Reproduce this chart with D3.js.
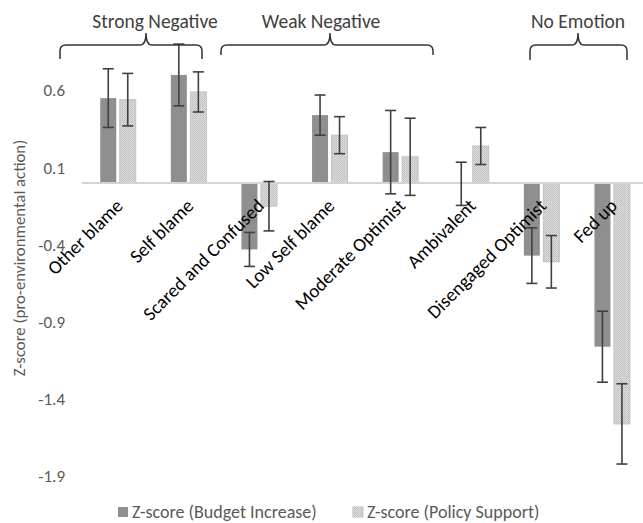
<!DOCTYPE html>
<html>
<head>
<meta charset="utf-8">
<script src="https://cdn.jsdelivr.net/npm/d3@7"></script>
<style>
  html, body { margin: 0; padding: 0; background: #fff; }
  svg { display: block; }
  text { font-family: Carlito, Calibri, Lato, "Open Sans", sans-serif; }
</style>
</head>
<body>
<div id="chart"></div>
<script>
const categories = ["Other blame", "Self blame", "Scared and Confused", "Low Self blame",
                    "Moderate Optimist", "Ambivalent", "Disengaged Optimist", "Fed up"];
const budgetIncrease = [0.55, 0.70, -0.43, 0.44, 0.20, -0.005, -0.47, -1.06];
const budgetError    = [0.19, 0.20, 0.11, 0.13, 0.27, 0.14, 0.18, 0.23];
const policySupport  = [0.54, 0.59, -0.15, 0.31, 0.17, 0.24, -0.51, -1.56];
const policyError    = [0.17, 0.13, 0.16, 0.12, 0.25, 0.12, 0.17, 0.26];
const yTicks = [0.6, 0.1, -0.4, -0.9, -1.4, -1.9];
const seriesNames = ["Z-score (Budget Increase)", "Z-score (Policy Support)"];
const groups = [
  { label: "Strong Negative", from: 0, to: 1 },
  { label: "Weak Negative", from: 2, to: 4 },
  { label: "No Emotion", from: 6, to: 7 }
];

const W = 643, H = 523;
const svg = d3.select("#chart").append("svg").attr("width", W).attr("height", H);

const defs = svg.append("defs");
const pat = defs.append("pattern").attr("id", "dots").attr("patternUnits", "userSpaceOnUse")
  .attr("width", 2).attr("height", 2);
pat.append("rect").attr("width", 2).attr("height", 2).attr("fill", "#dcdcdc");
pat.append("rect").attr("width", 1).attr("height", 1).attr("fill", "#bdbdbd");
pat.append("rect").attr("x", 1).attr("y", 1).attr("width", 1).attr("height", 1).attr("fill", "#c8c8c8");

const x = d3.scaleBand().domain(categories).range([82.7, 647.5]).paddingInner(0).paddingOuter(0);
const y = d3.scaleLinear().domain([-1.9, 1.1]).range([476.4, 13.2]);
const barW = 16, gap = 3.5;

const data = categories.map((c, i) => ({
  cat: c,
  vals: [
    { s: 0, v: budgetIncrease[i], e: budgetError[i] },
    { s: 1, v: policySupport[i], e: policyError[i] }
  ]
}));

// bars
const g = svg.append("g");
data.forEach(d => {
  const cx = x(d.cat) + x.bandwidth() / 2;
  d.vals.forEach(b => {
    const bx = b.s === 0 ? cx - gap / 2 - barW : cx + gap / 2;
    g.append("rect")
      .attr("x", bx).attr("width", barW)
      .attr("y", y(Math.max(0, b.v)))
      .attr("height", Math.abs(y(b.v) - y(0)))
      .attr("fill", b.s === 0 ? "#8f8f8f" : "url(#dots)")
      .attr("stroke", b.s === 0 ? "none" : "#c2c2c2")
      .attr("stroke-width", 1);
  });
});

// zero line
svg.append("line").attr("x1", 82).attr("x2", 647).attr("y1", y(0)).attr("y2", y(0))
  .attr("stroke", "#d4d4d4").attr("stroke-width", 2);

// error bars
const eb = svg.append("g").attr("stroke", "#404040").attr("stroke-width", 1.6);
data.forEach(d => {
  const cx = x(d.cat) + x.bandwidth() / 2;
  d.vals.forEach(b => {
    const mx = b.s === 0 ? cx - gap / 2 - barW / 2 : cx + gap / 2 + barW / 2;
    const y1 = y(b.v + b.e), y2 = y(b.v - b.e);
    eb.append("line").attr("x1", mx).attr("x2", mx).attr("y1", y1).attr("y2", y2);
    eb.append("line").attr("x1", mx - 5.5).attr("x2", mx + 5.5).attr("y1", y1).attr("y2", y1);
    eb.append("line").attr("x1", mx - 5.5).attr("x2", mx + 5.5).attr("y1", y2).attr("y2", y2);
  });
});

// y tick labels
svg.append("g").selectAll("text").data(yTicks).join("text")
  .attr("x", 65).attr("y", d => y(d) + 6)
  .attr("text-anchor", "end").attr("fill", "#595959").attr("font-size", 17)
  .text(d => d);

// y title
svg.append("text")
  .attr("transform", `translate(25,258) rotate(-90)`)
  .attr("text-anchor", "middle").attr("fill", "#595959").attr("font-size", 16.8)
  .text("Z-score (pro-environmental action)");

// category labels
svg.append("g").selectAll("text").data(categories).join("text")
  .attr("transform", d => `translate(${x(d) + x.bandwidth() / 2 + 6},${y(0) + 24}) rotate(-45)`)
  .attr("text-anchor", "end").attr("fill", "#000").attr("font-size", 19)
  .text(d => d);

// braces
function bracePath(x0, x1, tip, yTip, yH, yEnd) {
  const r = 6;
  return `M${x0},${yEnd} L${x0},${yH + r} Q${x0},${yH} ${x0 + r},${yH} L${tip - r},${yH} Q${tip},${yH} ${tip},${yTip}` +
         ` Q${tip},${yH} ${tip + r},${yH} L${x1 - r},${yH} Q${x1},${yH} ${x1},${yH + r} L${x1},${yEnd}`;
}
const braceGeom = [
  { x0: 60, x1: 202, tip: 146, yEnd: 59, tx: 155 },
  { x0: 221, x1: 433, tip: 330, yEnd: 55, tx: 321 },
  { x0: 530, x1: 627, tip: 578, yEnd: 60, tx: 578 }
];
groups.forEach((gr, i) => {
  const b = braceGeom[i];
  svg.append("path").attr("d", bracePath(b.x0, b.x1, b.tip, 33, 45, b.yEnd))
    .attr("fill", "none").attr("stroke", "#333").attr("stroke-width", 1.5);
  svg.append("text").attr("x", b.tx).attr("y", 28).attr("text-anchor", "middle")
    .attr("fill", "#404040").attr("font-size", 19.5).text(gr.label);
});

// legend
const legX = [118, 353];
seriesNames.forEach((n, i) => {
  svg.append("rect").attr("x", legX[i]).attr("y", 507).attr("width", 10).attr("height", 10)
    .attr("fill", i === 0 ? "#8f8f8f" : "url(#dots)").attr("stroke", i === 0 ? "none" : "#c2c2c2");
  svg.append("text").attr("x", legX[i] + 14).attr("y", 517.5).attr("fill", "#595959")
    .attr("font-size", 18).text(n);
});
</script>
</body>
</html>
